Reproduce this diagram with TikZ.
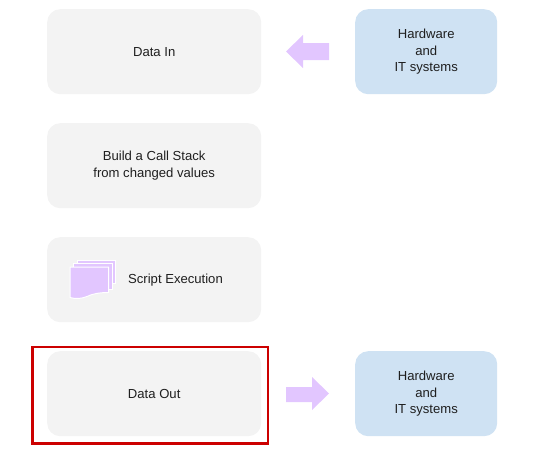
\documentclass[tikz,border=0pt]{standalone}
\usepackage{fontspec}
\setmainfont{Liberation Sans}
\definecolor{stepgray}{HTML}{F3F3F3}
\definecolor{sysblue}{HTML}{CFE2F3}
\definecolor{lilac}{HTML}{E2C6FF}
\definecolor{framered}{HTML}{CC0000}
\definecolor{ink}{HTML}{1F1F1F}
\tikzset{
  boxbase/.style={rounded corners=13pt, anchor=north west, align=center, inner sep=0pt, text=ink, font=\fontsize{13.1}{16.4}\selectfont},
  stepbox/.style={boxbase, fill=stepgray, minimum width=214pt, minimum height=85pt},
  sysbox/.style={boxbase, fill=sysblue, minimum width=142pt, minimum height=85pt},
  page/.style={fill=lilac, draw=white, line width=1pt},
  bigarrow/.style={fill=lilac},
  redframe/.style={draw=framered, line width=2.8pt}
}
\begin{document}
\begin{tikzpicture}[x=1pt,y=-1pt]
\useasboundingbox (0,0) rectangle (554,455);
\node[stepbox] (in) at (47,9) {Data In};
\node[stepbox] (stack) at (47,123) {Build a Call Stack\\from changed values};
\node[stepbox] (exec) at (47,237) {};
\node[stepbox] (out) at (47,351) {Data Out};
\node[sysbox] (hwin) at (355,9) {Hardware\\and\\IT systems};
\node[sysbox] (hwout) at (355,351) {Hardware\\and\\IT systems};
\node[font=\fontsize{13.1}{16.4}\selectfont, text=ink, anchor=center] (execlabel) at (175.5,280.5) {Script Execution};
\draw[redframe] (32.7,347) rectangle (268,443.7);
\fill[bigarrow] (286,51.5) -- (303,35) -- (303,43) -- (329,43) -- (329,60) -- (303,60) -- (303,68) -- cycle;
\fill[bigarrow] (286,387) -- (312,387) -- (312,377) -- (329,393.5) -- (312,410) -- (312,402) -- (286,402) -- cycle;
\draw[page] (77,260) -- (115,260) -- (115,283) -- (77,283) -- cycle;
\draw[page] (73.5,263.5) -- (112,263.5) -- (112,289) -- (73.5,289) -- cycle;
\draw[page] (70,267) -- (108.5,267) -- (108.5,292.5) .. controls (99,292.5) and (92,294) .. (87,296.5) .. controls (81,299) and (75,299) .. (70,297.5) -- cycle;
\end{tikzpicture}
\end{document}
